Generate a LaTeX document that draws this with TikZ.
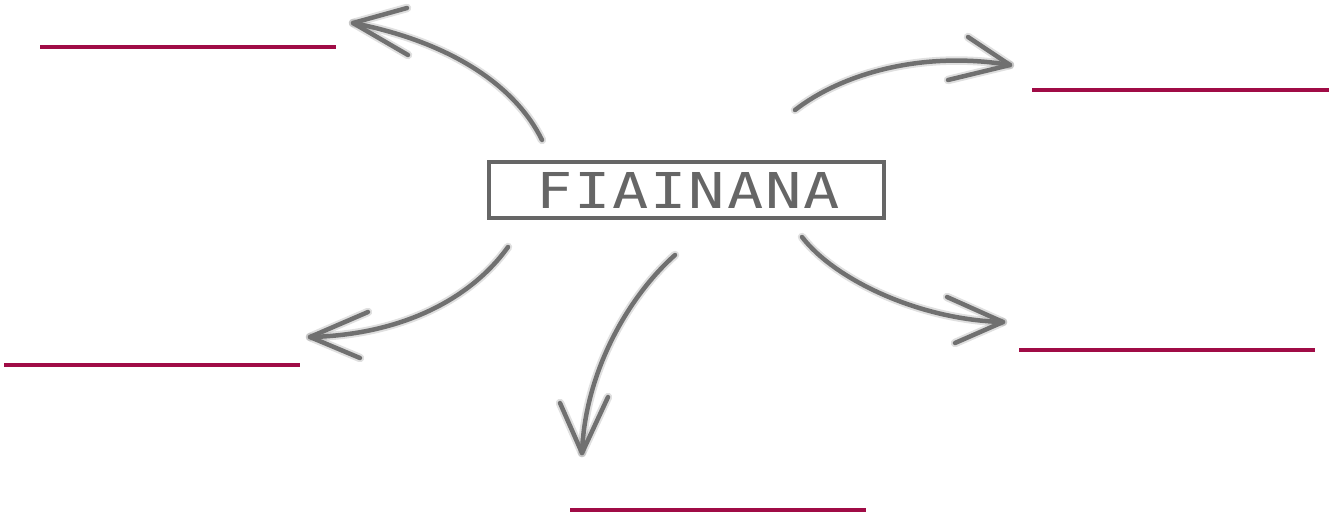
\documentclass[tikz,border=0pt]{standalone}
\usepackage{fontspec}
\usepackage{graphicx}
\newfontfamily\monofont{DejaVu Sans Mono}
\definecolor{boxgray}{RGB}{102,102,102}
\definecolor{brushgray}{RGB}{112,112,112}
\definecolor{blankred}{RGB}{160,12,70}
\tikzset{
  brush/.style={draw=brushgray, line width=4.5pt, line cap=round, line join=round,
    preaction={draw=brushgray, draw opacity=0.22, line width=8.5pt, line cap=round, line join=round}},
  blank/.style={draw=blankred, line width=4pt},
  titlebox/.style={draw=boxgray, line width=4pt, minimum width=395pt, minimum height=56pt,
    inner sep=0pt, text=boxgray, font=\monofont\fontsize{49.4}{50}\selectfont}
}
\begin{document}
\begin{tikzpicture}[x=1pt,y=-1pt]
\useasboundingbox (0,0) rectangle (1338,515);
% central box
\node[titlebox] (center) at (686.5,190) {\hspace*{3pt}\scalebox{1.22}[1]{F\kern1.6pt I\kern1.6pt A\kern1.6pt I\kern1.6pt N\kern1.6pt A\kern1.6pt N\kern1.6pt A}};

% arrow 1: top-left
\coordinate (t1) at (542,140);
\coordinate (h1) at (353,23);
\coordinate (a1) at (407,8);
\coordinate (b1) at (408,55);
\draw[brush] (t1) .. controls (515,85) and (450,42) .. (h1);
\draw[brush] (a1) -- (h1) -- (b1);

% arrow 2: top-right
\coordinate (t2) at (795,110);
\coordinate (h2) at (1010,65);
\coordinate (a2) at (968,37);
\coordinate (b2) at (948,80);
\draw[brush] (t2) .. controls (840,75) and (920,50) .. (h2);
\draw[brush] (a2) -- (h2) -- (b2);

% arrow 3: bottom-left
\coordinate (t3) at (508,247);
\coordinate (h3) at (310,337);
\coordinate (a3) at (368,312);
\coordinate (b3) at (360,358);
\draw[brush] (t3) .. controls (470,300) and (400,335) .. (h3);
\draw[brush] (a3) -- (h3) -- (b3);

% arrow 4: bottom
\coordinate (t4) at (675,255);
\coordinate (h4) at (582,453);
\coordinate (a4) at (560,403);
\coordinate (b4) at (608,397);
\draw[brush] (t4) .. controls (630,295) and (585,370) .. (h4);
\draw[brush] (a4) -- (h4) -- (b4);

% arrow 5: bottom-right
\coordinate (t5) at (802,237);
\coordinate (h5) at (1003,322);
\coordinate (a5) at (947,297);
\coordinate (b5) at (955,343);
\draw[brush] (t5) .. controls (835,280) and (920,320) .. (h5);
\draw[brush] (a5) -- (h5) -- (b5);

% blank lines
\coordinate (l1a) at (40,47);   \coordinate (l1b) at (336,47);
\coordinate (l2a) at (1032,90); \coordinate (l2b) at (1329,90);
\coordinate (l3a) at (4,365);   \coordinate (l3b) at (300,365);
\coordinate (l4a) at (1019,350);\coordinate (l4b) at (1315,350);
\coordinate (l5a) at (570,509.5);\coordinate (l5b) at (866,509.5);
\draw[blank] (l1a) -- (l1b);
\draw[blank] (l2a) -- (l2b);
\draw[blank] (l3a) -- (l3b);
\draw[blank] (l4a) -- (l4b);
\draw[blank] (l5a) -- (l5b);
\end{tikzpicture}
\end{document}
